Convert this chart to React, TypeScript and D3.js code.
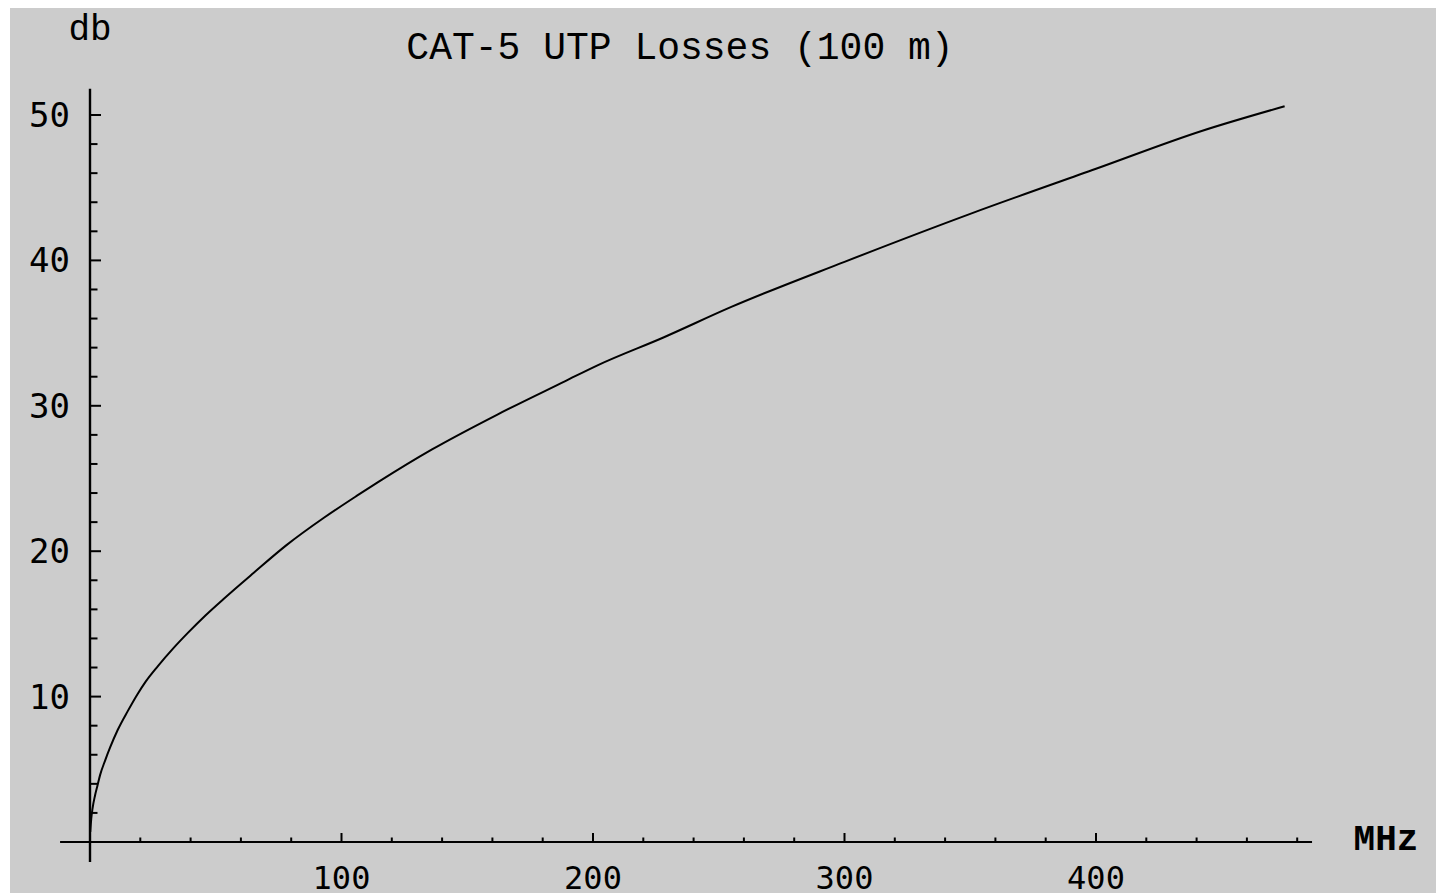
import React from "react";
import * as d3 from "d3";

// Data
const freqMHz = [0.1, 0.5, 1, 2, 3, 4, 6, 8, 11, 15, 19, 22, 27, 33, 39, 46, 53, 65, 78, 93, 106, 115, 136, 162, 189, 202, 228, 255, 300, 350, 400, 442, 475];
const lossDb = [0.7, 1.6, 2.3, 3.2, 3.9, 4.6, 5.6, 6.5, 7.7, 9.0, 10.2, 11.0, 12.1, 13.3, 14.4, 15.6, 16.7, 18.5, 20.4, 22.3, 23.8, 24.8, 27.0, 29.4, 31.7, 32.8, 34.7, 36.8, 39.9, 43.2, 46.3, 48.9, 50.6];

const xMajorTicks = [100, 200, 300, 400];
const xTickLabels = ["100", "200", "300", "400"];
const xMinorTicks = [20, 40, 60, 80, 120, 140, 160, 180, 220, 240, 260, 280, 320, 340, 360, 380, 420, 440, 460, 480];
const yMajorTicks = [10, 20, 30, 40, 50];
const yTickLabels = ["10", "20", "30", "40", "50"];
const yMinorTicks = [2, 4, 6, 8, 12, 14, 16, 18, 22, 24, 26, 28, 32, 34, 36, 38, 42, 44, 46, 48];

const xAxisRange = [-11.9, 485.9];
const yAxisRange = [-1.38, 51.8];

const title = "CAT-5 UTP Losses (100 m)";
const xLabel = "MHz";
const yLabel = "db";

export default function App() {
  const W = 1436;
  const H = 893;
  const x = d3.scaleLinear().domain([0, 400]).range([90, 1096]);
  const y = d3.scaleLinear().domain([0, 50]).range([842, 115]);

  const pts: [number, number][] = freqMHz.map((f, i) => [f, lossDb[i]]);
  const line = d3
    .line<[number, number]>()
    .x((d) => x(d[0]))
    .y((d) => y(d[1]))
    .curve(d3.curveMonotoneX);

  const mono = "'Liberation Mono', 'DejaVu Sans Mono', monospace";
  const digits = "'DejaVu Sans Mono', 'Liberation Mono', monospace";

  return (
    <svg
      width={W}
      height={H}
      style={{ position: "absolute", left: 0, top: 0, display: "block" }}
    >
      <rect x={0} y={0} width={W} height={H} fill="#ffffff" />
      <rect x={10} y={8} width={W - 10} height={H - 8} fill="#cccccc" />

      {/* axes */}
      <line x1={x(xAxisRange[0])} x2={x(xAxisRange[1])} y1={y(0)} y2={y(0)} stroke="#000" strokeWidth={2.2} />
      <line x1={x(0)} x2={x(0)} y1={y(yAxisRange[0])} y2={y(yAxisRange[1])} stroke="#000" strokeWidth={2.4} />

      {/* x ticks */}
      {xMinorTicks.map((t) => (
        <line key={"xm" + t} x1={x(t)} x2={x(t)} y1={y(0)} y2={y(0) - 4.5} stroke="#000" strokeWidth={2} />
      ))}
      {xMajorTicks.map((t) => (
        <line key={"xM" + t} x1={x(t)} x2={x(t)} y1={y(0)} y2={y(0) - 9} stroke="#000" strokeWidth={2} />
      ))}
      {xMajorTicks.map((t, i) => (
        <text key={"xl" + t} x={x(t)} y={889} textAnchor="middle" fontFamily={digits} fontSize={32} fill="#000">
          {xTickLabels[i]}
        </text>
      ))}

      {/* y ticks */}
      {yMinorTicks.map((t) => (
        <line key={"ym" + t} x1={x(0)} x2={x(0) + 7.5} y1={y(t)} y2={y(t)} stroke="#000" strokeWidth={2} />
      ))}
      {yMajorTicks.map((t) => (
        <line key={"yM" + t} x1={x(0)} x2={x(0) + 11} y1={y(t)} y2={y(t)} stroke="#000" strokeWidth={2} />
      ))}
      {yMajorTicks.map((t, i) => (
        <text key={"yl" + t} x={70} y={y(t) + 12} textAnchor="end" fontFamily={digits} fontSize={34} fill="#000">
          {yTickLabels[i]}
        </text>
      ))}

      {/* curve */}
      <path d={line(pts) || ""} fill="none" stroke="#000" strokeWidth={2} strokeLinejoin="round" />

      {/* labels */}
      <text x={680} y={59} textAnchor="middle" fontFamily={mono} fontSize={38} fill="#000">
        {title}
      </text>
      <text x={90} y={40} textAnchor="middle" fontFamily={mono} fontSize={36} fill="#000">
        {yLabel}
      </text>
      <text x={1386} y={850} textAnchor="middle" fontFamily={mono} fontSize={36} fontWeight="bold" fill="#000">
        {xLabel}
      </text>
    </svg>
  );
}
